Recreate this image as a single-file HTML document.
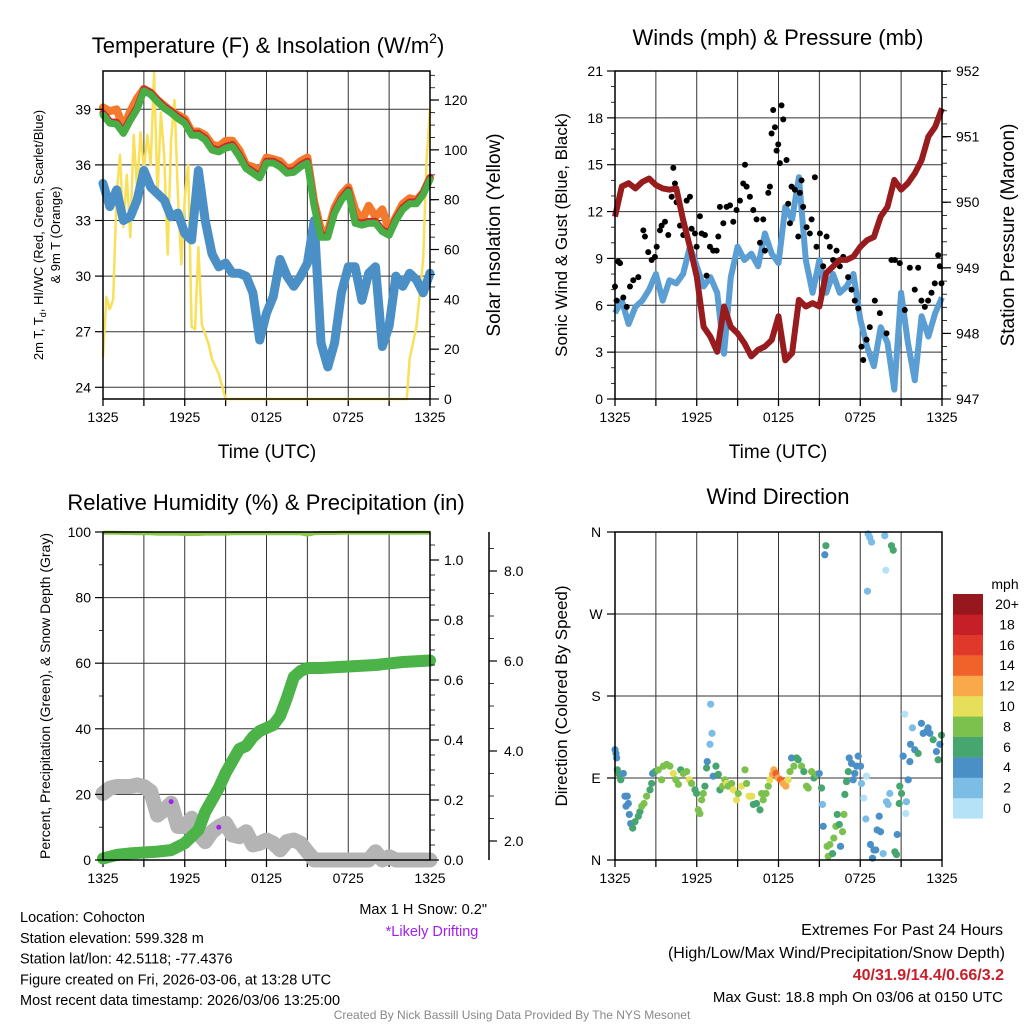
<!DOCTYPE html>
<html><head><meta charset="utf-8"><style>
html,body{margin:0;padding:0;background:#fff;}
svg{display:block;font-family:"Liberation Sans",Arial,sans-serif;}
</style></head><body>
<svg id="c" width="1024" height="1024" viewBox="0 0 1024 1024" xmlns="http://www.w3.org/2000/svg"></svg>
<script>
// ---------- DATA ----------
const hours = [0,0.5,1,1.5,2,2.5,3,3.5,4,4.5,5,5.5,6,6.5,7,7.5,8,8.5,9,9.5,10,10.5,11,11.5,12,12.5,13,13.5,14,14.5,15,15.5,16,16.5,17,17.5,18,18.5,19,19.5,20,20.5,21,21.5,22,22.5,23,23.5,24];
const xTickLabels = ["1325","1925","0125","0725","1325"];
const temp2m = [38.7,38.25,38.2,37.7,38.4,39,40,39.8,39.4,39.05,38.8,38.5,38.25,37.6,37.6,37.35,36.8,36.7,36.9,37,36.45,35.8,35.55,35.3,36.1,36.1,35.9,35.55,35.6,35.9,36.1,33.75,32.1,32.1,33.4,34.1,34.55,32.85,32.75,32.85,32.85,32.4,32.2,33,33.6,33.9,33.9,34.4,35.2];
const heatIndexWC = [38.8,38.35,38.3,37.8,38.5,39.1,40.1,39.9,39.5,39.15,38.9,38.6,38.35,37.7,37.7,37.45,36.9,36.8,37.0,37.1,36.55,35.9,35.65,35.4,36.2,36.2,36.0,35.65,35.7,36.0,36.2,33.85,32.2,32.2,33.5,34.2,34.65,32.95,32.85,32.95,32.95,32.5,32.3,33.1,33.7,34.0,34.0,34.5,35.3];
const temp9m = [39.1,38.9,39.0,38.0,38.9,39.6,40.1,39.9,39.5,39.2,38.9,38.7,38.5,37.8,37.8,37.6,37.1,37.0,37.3,37.3,36.8,36.0,35.9,35.6,36.4,36.3,36.2,35.8,35.9,36.2,36.4,34.0,32.5,32.4,33.7,34.4,34.8,33.6,33.0,33.8,33.2,33.6,32.5,33.2,33.9,34.2,34.1,34.5,35.3];
const dewpoint = [35.0,33.75,34.65,33.0,33.2,34.1,35.7,34.8,34.45,34.1,33.2,33.4,32.3,31.95,35.7,33,31.2,30.5,30.7,30.15,30.15,30,29.1,26.55,28,28.9,30.9,30,29.45,30,30.7,33,26.4,25.1,26.4,29.1,30.5,30.5,28.7,30.15,30.5,26.2,27.3,30,29.45,30.15,29.8,29.1,30.15];
const insolTimes = [0,0.25,0.5,0.75,1,1.25,1.5,1.75,2,2.25,2.5,2.75,3,3.25,3.5,3.75,4,4.25,4.5,4.75,5,5.25,5.5,5.75,6,6.25,6.5,6.75,7,7.25,7.5,7.75,8,8.5,9,22.3,22.5,23,23.5,23.75,24];
const insolValues = [17,41,36,40,82,98,69,90,65,106,84,107,92,106,94,131,82,115,97,58,104,120,82,54,81,94,29,28,61,30,26,22,16,10,0,0,16,29,56,96,116];
const tempTicks = [24,27,30,33,36,39];
const insolTicks = [0,20,40,60,80,100,120];

const windSpeed = [5.5,6.3,4.8,5.9,6.3,7.0,8.0,6.3,7.6,7.4,8.0,9.75,8.5,7.2,7.8,6.8,2.9,7.8,9.75,8.9,9.3,8.5,10.6,9.3,8.7,12.3,11.5,14.2,8.9,6.8,8.9,6.8,8.0,6.8,7.2,8.0,5.1,3.35,2.1,4.6,3.6,0.6,6.8,3.6,1.2,5.3,4.0,5.5,6.5];
const pressure = [949.78,950.24,950.29,950.21,950.31,950.36,950.26,950.21,950.19,950.21,949.73,949.32,948.86,948.10,947.95,947.72,948.41,948.10,948.0,947.85,947.65,947.75,947.8,947.9,948.26,947.59,947.70,948.51,948.41,948.46,948.41,948.92,949.02,949.12,949.12,949.17,949.32,949.42,949.47,949.78,949.93,950.34,950.19,950.29,950.44,950.64,951.0,951.15,951.43];
const gustTimes = [0,0.12,0.24,0.37,0.61,0.86,1.10,1.34,1.71,2.08,2.20,2.44,2.69,2.93,3.06,3.30,3.42,3.67,3.91,4.16,4.28,4.40,4.52,4.77,5.01,5.26,5.50,5.62,5.87,5.99,6.23,6.36,6.60,6.72,6.97,7.21,7.46,7.58,7.70,7.95,8.19,8.44,8.68,8.92,9.17,9.41,9.54,9.66,9.90,10.15,10.39,10.64,10.88,11.00,11.25,11.37,11.49,11.61,11.74,11.86,11.98,12.10,12.22,12.35,12.59,12.71,12.84,12.96,13.20,13.45,13.57,13.69,13.81,14.06,14.30,14.43,14.67,14.79,15.04,15.28,15.53,15.77,16.01,16.26,16.50,16.75,17.11,17.36,17.60,17.85,18.09,18.22,18.46,18.70,19.07,19.44,19.93,20.29,20.54,20.90,21.27,21.64,22.00,22.25,22.49,22.74,22.98,23.23,23.47,23.72,23.84,23.96];
const gustValues = [7.2,6.3,8.8,8.7,6.5,5.9,7.2,7.6,7.8,10.8,10.4,9.4,8.9,9.1,9.75,10.8,11.1,11.35,10.5,12.95,14.8,13.8,12.6,11.1,10.5,12.7,12.95,10.9,10.6,9.75,11.7,10.6,10.5,7.9,9.75,9.5,9.5,10.4,12.3,11.25,12.3,12.4,11.35,12.1,12.7,13.8,15,13.6,12.95,12.1,11.5,10.0,11.5,9.5,13.2,13.6,17,18.5,17.4,15.9,16.3,15.1,18.8,17.9,15.3,12.5,11.25,13.6,13.4,10.4,13.2,14,12.3,11,10.6,11.5,14.2,9.75,10.6,8.5,10.4,9.75,8.9,9.5,8.5,9.1,7.8,7.0,6.3,5.8,3.35,2.5,3.8,4.6,6.3,5.5,4.2,8.9,8.9,8.7,5.7,8.4,7.0,8.4,6.3,5.9,6.3,6.8,7.4,9.2,8.5,7.4];
const windTicks = [0,3,6,9,12,15,18,21];
const pressTicks = [947,948,949,950,951,952];

const rhValues = [99.8,99.8,99.8,99.7,99.7,99.6,99.6,99.6,99.5,99.5,99.5,99.5,99.4,99.4,99.4,99.5,99.5,99.5,99.5,99.6,99.6,99.6,99.6,99.6,99.6,99.6,99.6,99.6,99.6,99.6,99.2,99.6,99.7,99.7,99.7,99.8,99.8,99.8,99.8,99.8,99.8,99.8,99.8,99.8,99.8,99.8,99.8,99.8,99.8];
const precipTimes = [0,1,2,3,4,5,6,6.5,7,7.5,8,8.5,9,9.5,10,10.5,11,11.5,12,12.5,13,13.5,14,14.5,15,16,18,20,22,24];
const precipValues = [0.005,0.017,0.022,0.025,0.028,0.033,0.056,0.078,0.1,0.16,0.2,0.24,0.29,0.33,0.37,0.38,0.41,0.43,0.44,0.45,0.48,0.54,0.61,0.63,0.64,0.64,0.645,0.65,0.66,0.665];
const snowTimes = [0,0.5,1,2,2.5,3,3.5,4,4.5,5,5.5,6,6.5,7,7.5,8,8.5,9,9.5,10,10.5,11,11.5,12,12.5,13,13.5,14,14.5,15,15.5,19.5,20,20.5,21,21.5,24];
const snowValues = [20.3,21.9,22.4,22.4,22.9,22.4,20.9,13.7,15.3,17.3,10.2,10.2,12.7,8.1,5.6,8.6,10.2,11.2,7.6,7.1,8.6,4.6,5.1,6.1,5.1,3.1,5.6,6.1,5.1,2.5,0,0,2.5,0,1,0,0];
const driftTimes = [5.0,8.5];
const driftValues = [17.8,10];
const pctTicks = [0,20,40,60,80,100];
const precipTicks = [0.0,0.2,0.4,0.6,0.8,1.0];
const snowTicks = [2.0,4.0,6.0,8.0];

const dirTimes = [0,0.07,0.12,0.17,0.32,0.42,0.61,0.73,0.90,0.81,0.98,1.05,1.15,1.30,1.47,1.71,1.83,1.96,2.13,2.32,2.57,2.69,2.76,2.93,3.18,3.42,3.55,3.79,4.03,4.28,4.47,4.65,4.82,5.01,5.26,5.45,5.62,5.87,5.99,6.11,6.23,6.36,6.48,6.60,6.72,6.77,6.97,7.12,7.02,7.21,7.41,7.58,7.70,7.90,8.07,8.19,8.31,8.56,8.68,8.92,9.05,9.29,9.54,9.66,9.85,10.03,10.15,10.39,10.64,10.76,10.88,11.08,11.25,11.37,11.56,11.66,11.81,11.98,12.15,12.35,12.54,12.71,12.84,12.96,13.13,13.33,13.45,13.69,13.86,14.06,14.18,14.43,14.60,14.79,14.99,15.16,15.23,15.28,15.40,15.48,15.57,15.65,15.77,15.97,16.06,16.21,16.31,16.46,16.55,16.70,16.80,16.87,16.99,17.12,17.19,17.36,17.48,17.60,17.73,17.85,18.02,18.09,18.26,18.41,18.46,18.53,18.58,18.70,18.83,18.75,18.90,19.00,19.14,19.24,19.39,19.49,19.68,19.80,19.88,19.93,20.05,20.17,20.29,20.42,20.54,20.66,20.71,20.86,20.90,21.03,21.15,21.27,21.39,21.34,21.52,21.64,21.69,21.83,22.00,22.25,22.49,22.62,22.86,22.98,23.11,23.35,23.59,23.72,23.84,23.96];
const dirDegrees = [121,117,112,99,94,88,95,70,70,59,62,50,40,35,42,48,53,59,62,70,77,84,95,97,99,88,103,105,103,95,88,83,99,95,97,88,84,77,73,55,51,66,73,81,101,108,127,139,171,92,103,94,77,81,88,84,81,84,77,66,73,81,99,84,70,70,61,62,55,73,66,73,81,88,94,99,95,90,88,84,81,88,97,112,103,112,110,103,97,81,79,97,90,94,95,79,61,37,335,345,15,4,17,7,24,37,50,39,15,31,50,72,86,97,112,106,88,95,103,114,103,84,68,45,92,295,358,354,349,17,2,11,11,33,48,31,7,356,318,64,61,73,345,340,9,6,28,62,81,73,114,160,64,51,88,108,127,145,121,117,150,139,141,145,139,132,119,110,127,137];
const dirSpeeds = [4,4,4,6,6,6,4,4,4,4,4,4,4,6,6,6,6,8,8,8,6,6,4,6,8,8,8,8,8,10,8,8,6,8,8,10,8,6,6,8,8,8,8,6,6,4,2,2,2,4,6,6,6,8,8,10,8,8,10,10,8,10,8,8,10,10,6,6,6,8,8,8,8,10,12,12,14,12,14,12,12,10,8,4,8,6,6,8,6,8,8,8,6,8,4,6,2,4,4,6,8,8,8,6,8,8,6,6,4,8,8,6,6,6,4,4,4,4,4,4,4,2,0,2,0,2,2,2,2,4,4,4,4,4,4,4,2,2,0,2,2,2,6,6,6,6,4,6,6,6,4,0,2,0,4,4,4,2,4,6,4,4,4,4,4,6,4,6,4,6];
const dirTicks = ["N","E","S","W","N"];
const speedLabels = ["0","2","4","6","8","10","12","14","16","18","20+"];
const speedColors = ["#b6e2f8","#7cbde6","#4a8fc6","#47a56f","#7cc14e","#e6df5a","#f9a94a","#f1622b","#e0382b","#c61f27","#96181d"];

// ---------- HELPERS ----------
const NS = "http://www.w3.org/2000/svg";
const svg = document.getElementById("c");
function mk(tag, attrs, parent) {
  const e = document.createElementNS(NS, tag);
  for (const k in attrs) e.setAttribute(k, attrs[k]);
  (parent || svg).appendChild(e);
  return e;
}
function txt(s, x, y, size, anchor, parent, extra) {
  const t = mk("text", Object.assign({x: x, y: y, "font-size": size, "text-anchor": anchor || "middle", fill: "#000"}, extra || {}), parent);
  t.textContent = s;
  return t;
}
function lin(d0, d1, r0, r1) { return v => r0 + (v - d0) / (d1 - d0) * (r1 - r0); }
function pathD(xs, ys, fx, fy) {
  return xs.map((v, i) => (i ? "L" : "M") + fx(v).toFixed(1) + "," + fy(ys[i]).toFixed(1)).join("");
}
function panelFrame(g, L, R, T, B, fx, yTicks, fy) {
  for (let h = 3; h < 24; h += 3) {
    const gl = mk("line", {x1: fx(h), x2: fx(h), y1: T, y2: B, stroke: "#333", "stroke-width": 1}, g);
    
    
  }
  yTicks.forEach(v => {
    const y = fy(v);
    if (y > T + 1 && y < B - 1) {
      const gl = mk("line", {x1: L, x2: R, y1: y, y2: y, stroke: "#333", "stroke-width": 1}, g);
      
      
    }
  });
  for (let h = 0; h <= 24; h += 3) {
    const tk = mk("line", {x1: fx(h), x2: fx(h), y1: B, y2: B + 7, stroke: "#000", "stroke-width": 1.3}, g);
    
    
  }
  xTickLabels.forEach((s, i) => {
    const t = txt(s, fx(i * 6), B + 23, 14, "middle", g);
    
    
  });
}
function borderRect(g, L, R, T, B) {
  const r = mk("rect", {x: L, y: T, width: R - L, height: B - T, fill: "none", stroke: "#000", "stroke-width": 1.5}, g);
  
  
}
function leftTicks(g, L, vals, fy, fmt) {
  vals.forEach(v => {
    const y = fy(v);
    const tk = mk("line", {x1: L - 8, x2: L, y1: y, y2: y, stroke: "#000", "stroke-width": 1.2}, g);
    
    
    const t = txt(fmt(v), L - 12, y + 5, 14, "end", g);
    
    
  });
}
function rightTicks(g, R, vals, fy, fmt, T, B, minor) {
  vals.forEach(v => {
    const y = fy(v);
    const tk = mk("line", {x1: R, x2: R + 9, y1: y, y2: y, stroke: "#000", "stroke-width": 1.2}, g);
    
    
    const t = txt(fmt(v), R + 14, y + 5, 14, "start", g);
    
    
  });
  if (minor) {
    for (let y = fy(vals[0]); y > T; y -= minor) {
      const mt = mk("line", {x1: R, x2: R + 5, y1: y, y2: y, stroke: "#000", "stroke-width": 0.8}, g);
      
      
    }
  }
}

// ---------- PANEL 1 ----------
(function () {
  const g = mk("g", {});
  
  
  const L = 103, R = 430, T = 71, B = 399;
  const fx = lin(0, 24, L, R), fy = lin(24, 39, 387.3, 109.3), fi = lin(0, 120, 399, 100);
  panelFrame(g, L, R, T, B, fx, tempTicks, fy);
  const series = [
    ["insolation-line", insolTimes, insolValues, fi, "#f8e05a", 2.5],
    ["dewpoint-line", hours, dewpoint, fy, "#4a8fc6", 9],
    ["temp-9m-line", hours, temp9m, fy, "#f37a2c", 8],
    ["heat-index-wind-chill-line", hours, heatIndexWC, fy, "#d0262a", 7],
    ["temp-2m-line", hours, temp2m, fy, "#48ad45", 7]
  ];
  series.forEach(s => {
    const p = mk("path", {d: pathD(s[1], s[2], fx, s[3]), fill: "none", stroke: s[4], "stroke-width": s[5], "stroke-linejoin": "round", "stroke-linecap": "round"}, g);
    
    
  });
  borderRect(g, L, R, T, B);
  leftTicks(g, L, tempTicks, fy, v => String(v));
  rightTicks(g, R, insolTicks, fi, v => String(v), T, B, 12.45);
  const t1 = txt("", 268, 53, 22, "middle", g);
  
  
  const a = mk("tspan", {}, t1); a.textContent = "Temperature (F) & Insolation (W/m";
  const b = mk("tspan", {"font-size": 14, dy: -10}, t1); b.textContent = "2";
  const c = mk("tspan", {dy: 10}, t1); c.textContent = ")";
  const xl = txt("Time (UTC)", 267, 458, 19, "middle", g);
  
  
  const yl = txt("", 0, 0, 13, "middle", g, {transform: "translate(43,235) rotate(-90)"});
  
  
  const tsp = mk("tspan", {}, yl); tsp.textContent = "2m T, T";
  const sub = mk("tspan", {"font-size": 9, dy: 3}, yl); sub.textContent = "d";
  const rest = mk("tspan", {dy: -3}, yl); rest.textContent = ", HI/WC (Red, Green, Scarlet/Blue)";
  const yl2 = txt("& 9m T (Orange)", 0, 0, 13, "middle", g, {transform: "translate(60,235) rotate(-90)"});
  
  
  const yr = txt("Solar Insolation (Yellow)", 0, 0, 19, "middle", g, {transform: "translate(500,235) rotate(-90)"});
  
  
})();

// ---------- PANEL 2 ----------
(function () {
  const g = mk("g", {});
  
  
  const L = 615, R = 942, T = 71, B = 399;
  const fx = lin(0, 24, L, R), fy = lin(0, 21, B, T), fp = lin(947, 952, B, T);
  panelFrame(g, L, R, T, B, fx, windTicks, fy);
  const w = mk("path", {d: pathD(hours, windSpeed, fx, fy), fill: "none", stroke: "#5a9ed4", "stroke-width": 6, "stroke-linejoin": "round"}, g);
  
  
  gustTimes.forEach((t, i) => {
    const c = mk("circle", {cx: fx(t), cy: fy(gustValues[i]), r: 3, fill: "#000"}, g);
    
    
  });
  const p = mk("path", {d: pathD(hours, pressure, fx, fp), fill: "none", stroke: "#981b1e", "stroke-width": 6, "stroke-linejoin": "round"}, g);
  
  
  borderRect(g, L, R, T, B);
  leftTicks(g, L, windTicks, fy, v => String(v));
  for (let v = 1; v < 21; v++) if (v % 3) {
    const mt = mk("line", {x1: L - 4, x2: L, y1: fy(v), y2: fy(v), stroke: "#000", "stroke-width": 0.8}, g);
    
    
  }
  rightTicks(g, R, pressTicks, fp, v => String(v), T, B, 13.1);
  const t = txt("Winds (mph) & Pressure (mb)", 778, 45, 22, "middle", g);
  
  
  const xl = txt("Time (UTC)", 778, 458, 19, "middle", g);
  
  
  const yl = txt("Sonic Wind & Gust (Blue, Black)", 0, 0, 17, "middle", g, {transform: "translate(567,235) rotate(-90)"});
  
  
  const yr = txt("Station Pressure (Maroon)", 0, 0, 19, "middle", g, {transform: "translate(1014,235) rotate(-90)"});
  
  
})();

// ---------- PANEL 3 ----------
(function () {
  const g = mk("g", {});
  
  
  const L = 103, R = 430, T = 532, B = 860;
  const fx = lin(0, 24, L, R), fy = lin(0, 100, B, T), fpr = lin(0, 1, B, 560), fs = lin(2, 8, 841, 571);
  panelFrame(g, L, R, T, B, fx, pctTicks, fy);
  const s = mk("path", {d: pathD(snowTimes, snowValues, fx, fy), fill: "none", stroke: "#b4b4b4", "stroke-width": 15, "stroke-linejoin": "round", "stroke-linecap": "round"}, g);
  
  
  driftTimes.forEach((t, i) => {
    const c = mk("circle", {cx: fx(t), cy: fy(driftValues[i]), r: 2.5, fill: "#a020f0"}, g);
    
    
  });
  const pr = mk("path", {d: pathD(precipTimes, precipValues, fx, fpr), fill: "none", stroke: "#4bb348", "stroke-width": 12, "stroke-linejoin": "round", "stroke-linecap": "round"}, g);
  
  
  const rh = mk("path", {d: pathD(hours, rhValues, fx, fy), fill: "none", stroke: "#8cc84b", "stroke-width": 4, "stroke-linejoin": "round"}, g);
  
  
  borderRect(g, L, R, T, B);
  leftTicks(g, L, pctTicks, fy, v => String(v));
  for (let v = 10; v < 100; v += 20) {
    const mt = mk("line", {x1: L - 4, x2: L, y1: fy(v), y2: fy(v), stroke: "#000", "stroke-width": 0.8}, g);
    
    
  }
  rightTicks(g, R, precipTicks, fpr, v => v.toFixed(1), T, B, 15);
  const ax = mk("line", {x1: 489, x2: 489, y1: T, y2: B, stroke: "#000", "stroke-width": 1.5}, g);
  
  
  snowTicks.forEach(v => {
    const tk = mk("line", {x1: 489, x2: 497, y1: fs(v), y2: fs(v), stroke: "#000", "stroke-width": 1.2}, g);
    
    
    const t = txt(v.toFixed(1), 504, fs(v) + 5, 14, "start", g);
    
    
  });
  for (let v = 2.5; v < 8.6; v += 0.5) if (v % 2) {
    const mt = mk("line", {x1: 489, x2: 494, y1: fs(v), y2: fs(v), stroke: "#000", "stroke-width": 0.8}, g);
    
    
  }
  const t = txt("Relative Humidity (%) & Precipitation (in)", 266, 510, 22, "middle", g);
  
  
  const yl = txt("Percent, Precipitation (Green), & Snow Depth (Gray)", 0, 0, 14, "middle", g, {transform: "translate(50,696) rotate(-90)"});
  
  
})();

// ---------- PANEL 4 ----------
(function () {
  const g = mk("g", {});
  
  
  const L = 615, R = 942, T = 532, B = 860;
  const fx = lin(0, 24, L, R), fy = lin(0, 360, B, T);
  panelFrame(g, L, R, T, B, fx, [0, 90, 180, 270, 360], fy);
  dirTimes.forEach((t, i) => {
    const idx = Math.min(10, Math.floor(dirSpeeds[i] / 2));
    const c = mk("circle", {cx: fx(t), cy: fy(dirDegrees[i]), r: 3.6, fill: speedColors[idx]}, g);
    
    
  });
  borderRect(g, L, R, T, B);
  dirTicks.forEach((s, i) => {
    const y = fy(i * 90);
    const tk = mk("line", {x1: L - 8, x2: L, y1: y, y2: y, stroke: "#000", "stroke-width": 1.2}, g);
    
    
    const tl = txt(s, L - 19, y + 5, 14, "middle", g);
    
    
  });
  const t = txt("Wind Direction", 778, 504, 22, "middle", g);
  
  
  const yl = txt("Direction (Colored By Speed)", 0, 0, 17, "middle", g, {transform: "translate(567,696) rotate(-90)"});
  
  
  const cb = mk("g", {}, g);
  
  
  const u = txt("mph", 1005, 589, 14, "middle", cb);
  
  
  for (let i = 0; i < 11; i++) {
    const y = 594 + (10 - i) * 20.4;
    const r = mk("rect", {x: 953, y: y, width: 30, height: 20.6, fill: speedColors[i]}, cb);
    
    
    const l = txt(speedLabels[i], 1007, y + 15, 14, "middle", cb);
    
    
  }
})();

// ---------- FOOTER TEXT ----------
const info = ["Location: Cohocton", "Station elevation: 599.328 m", "Station lat/lon: 42.5118; -77.4376", "Figure created on Fri, 2026-03-06, at 13:28 UTC", "Most recent data timestamp: 2026/03/06 13:25:00"];
info.forEach((s, i) => {
  const t = txt(s, 20, 922 + i * 20.8, 14.5, "start");
  
  
});
const ms = txt("Max 1 H Snow: 0.2\"", 487, 914, 14.5, "end");


const ld = txt("*Likely Drifting", 432, 936, 14.5, "middle", null, {fill: "#a020f0"});


const ex1 = txt("Extremes For Past 24 Hours", 1003, 935, 16, "end");


const ex2 = txt("(High/Low/Max Wind/Precipitation/Snow Depth)", 1005, 958, 16, "end");


const ex3 = txt("40/31.9/14.4/0.66/3.2", 1004, 980, 16, "end", null, {fill: "#c8202a", "font-weight": "bold"});


const ex4 = txt("Max Gust: 18.8 mph On 03/06 at 0150 UTC", 1003, 1002, 15, "end");


const cr = txt("Created By Nick Bassill Using Data Provided By The NYS Mesonet", 512, 1019, 12, "middle", null, {fill: "#888"});


</script>
</body></html>
